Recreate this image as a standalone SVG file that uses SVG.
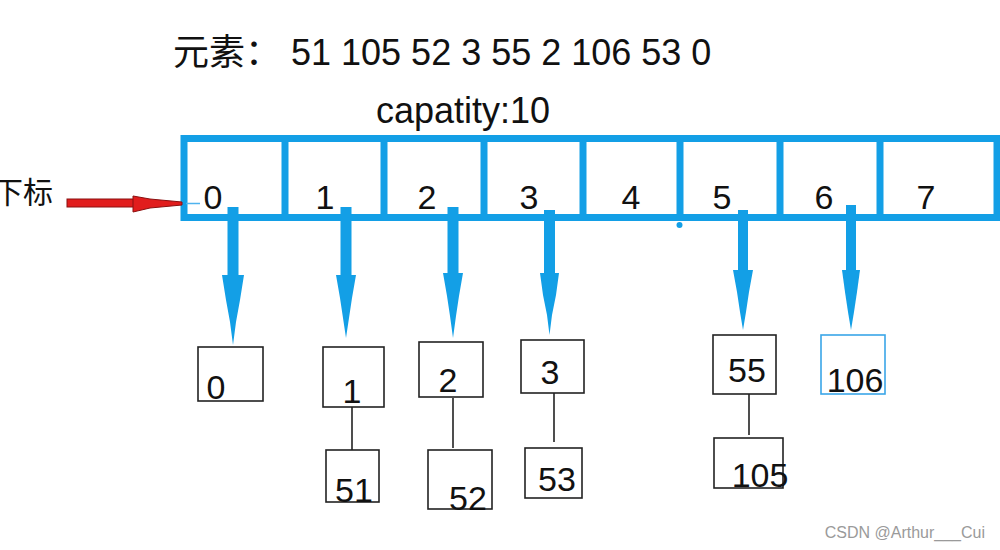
<svg xmlns="http://www.w3.org/2000/svg" width="1000" height="550" viewBox="0 0 1000 550">
<style>
.t{font-family:"Liberation Sans","Noto Sans CJK SC",sans-serif;fill:#111}
.big{font-size:36px}
.idx{font-size:34px}
.val{font-size:34px}
.box{fill:#fff;stroke:#222;stroke-width:1.6}
.bbox{fill:#fff;stroke:#3aa6e8;stroke-width:1.6}
.link{stroke:#222;stroke-width:1.6}
.blue{fill:#139fe6}
.arr{fill:#139fe6}
</style>
<rect width="1000" height="550" fill="#fff"/>
<g id="header">
<text class="t big" x="173" y="65">元素： 51 105 52 3 55 2 106 53 0</text>
<text class="t big" x="376" y="123">capatity:10</text>
</g>
<g id="label-xiabiao">
<text class="t" x="53" y="203" font-size="30" text-anchor="end">下标</text>
</g>
<g id="array">
<rect x="184" y="138.5" width="813" height="79" fill="none" stroke="#139fe6" stroke-width="7"/>
<rect class="blue" x="281.5" y="138" width="7" height="82"/>
<rect class="blue" x="380.5" y="138" width="7" height="80"/>
<rect class="blue" x="480.5" y="138" width="7" height="82"/>
<rect class="blue" x="579.5" y="138" width="7" height="80"/>
<rect class="blue" x="676.5" y="138" width="7" height="80"/>
<circle class="blue" cx="679.5" cy="225" r="3"/>
<rect class="blue" x="776.5" y="138" width="7" height="80"/>
<rect class="blue" x="876.5" y="138" width="7" height="80"/>
<g class="t idx" text-anchor="middle">
<text x="213" y="209">0</text>
<text x="325" y="209">1</text>
<text x="427" y="209">2</text>
<text x="529" y="209">3</text>
<text x="631" y="209">4</text>
<text x="722" y="209">5</text>
<text x="824" y="209">6</text>
<text x="926" y="209">7</text>
</g>
</g>
<g id="connectors">
<rect x="67" y="199" width="68" height="8" fill="#e11d1d" stroke="#8a1010" stroke-width="1"/>
<polygon points="133,196 150,199 182,202 182,205 150,208 133,212" fill="#e11d1d" stroke="#8a1010" stroke-width="1"/>
<path d="M186 203.5 H200" stroke="#4fb3ee" stroke-width="1.5"/>
<rect class="arr" x="227.5" y="207" width="11" height="70"/>
<polygon class="arr" points="222,275 244,275 240,300 236,322 233,345 230,322 226,300"/>
<rect class="arr" x="340.5" y="207" width="11" height="70"/>
<polygon class="arr" points="336,275 356,275 352,298 349,318 346,338 343,318 340,298"/>
<rect class="arr" x="447.5" y="207" width="11" height="68"/>
<polygon class="arr" points="443,273 463,273 459,296 456,316 453,338 450,316 447,296"/>
<rect class="arr" x="544" y="210" width="11" height="65"/>
<polygon class="arr" points="540,273 559,273 556,295 552,315 549.5,335 547,315 543,295"/>
<rect class="arr" x="738" y="210" width="10" height="62"/>
<polygon class="arr" points="733,270 753,270 749,292 746,312 743,330 740,312 737,292"/>
<rect class="arr" x="846" y="205" width="10" height="67"/>
<polygon class="arr" points="842,270 860,270 857,292 854,312 851,330 848,312 845,292"/>
<line class="link" x1="352" y1="407" x2="352" y2="450"/>
<line class="link" x1="453" y1="398" x2="453" y2="448"/>
<line class="link" x1="554" y1="393" x2="554" y2="442"/>
<line class="link" x1="749" y1="394" x2="749" y2="435"/>
</g>
<g id="node-0"><rect class="box" x="198" y="347" width="65" height="54"/><text class="t val" x="216" y="399" text-anchor="middle">0</text></g>
<g id="node-1"><rect class="box" x="323" y="347" width="61" height="60"/><text class="t val" x="352" y="403" text-anchor="middle">1</text></g>
<g id="node-51"><rect class="box" x="326" y="450" width="53" height="52"/><text class="t val" x="354" y="502" text-anchor="middle">51</text></g>
<g id="node-2"><rect class="box" x="419" y="342" width="64" height="55"/><text class="t val" x="448" y="392" text-anchor="middle">2</text></g>
<g id="node-52"><rect class="box" x="428" y="450" width="64" height="59"/><text class="t val" x="468" y="510" text-anchor="middle">52</text></g>
<g id="node-3"><rect class="box" x="521" y="340" width="63" height="53"/><text class="t val" x="550" y="384" text-anchor="middle">3</text></g>
<g id="node-53"><rect class="box" x="525" y="448" width="57" height="50"/><text class="t val" x="557" y="491" text-anchor="middle">53</text></g>
<g id="node-55"><rect class="box" x="713" y="335" width="63" height="59"/><text class="t val" x="747" y="382" text-anchor="middle">55</text></g>
<g id="node-105"><rect class="box" x="714" y="438" width="69" height="50"/><text class="t val" x="760" y="487" text-anchor="middle">105</text></g>
<g id="node-106"><rect class="bbox" x="821" y="335" width="64" height="59"/><text class="t val" x="855" y="392" text-anchor="middle">106</text></g>
<g id="watermark"><text x="985" y="538" text-anchor="end" font-family="Liberation Sans, sans-serif" font-size="16" fill="#9a9a9a">CSDN @Arthur___Cui</text></g>
</svg>
